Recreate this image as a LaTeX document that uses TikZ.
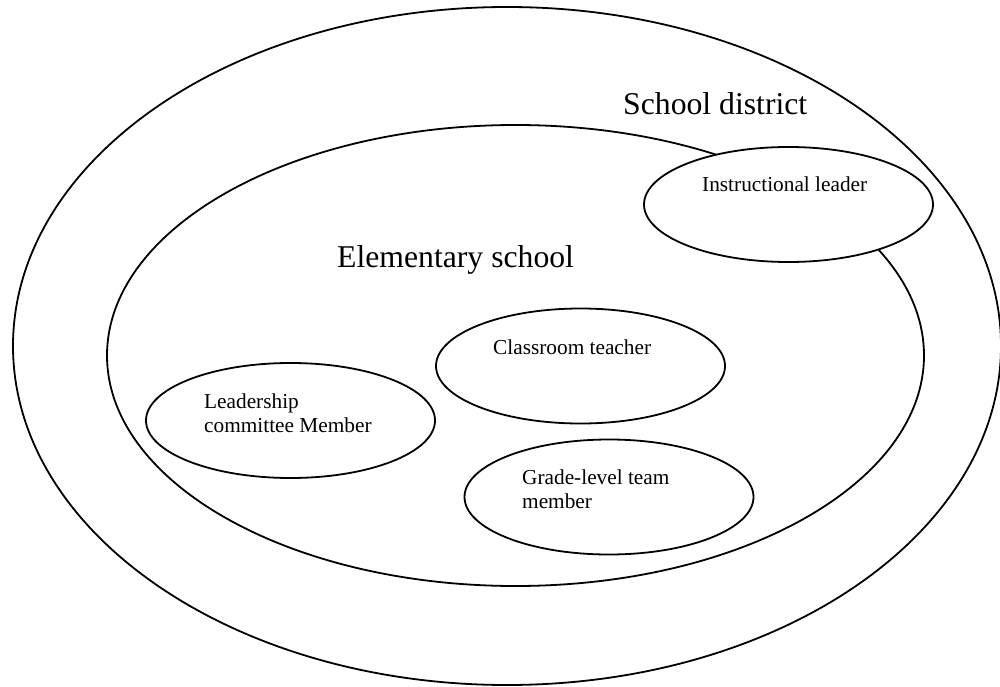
\documentclass[tikz,border=0pt]{standalone}
\usepackage{fontspec}
\setmainfont{Liberation Serif}
\usetikzlibrary{shapes.geometric}
\tikzset{
  ring/.style={draw=black, line width=1.8pt, ellipse, inner sep=0pt},
  role/.style={draw=black, line width=1.8pt, ellipse, inner sep=0pt, fill=white,
    minimum width=289pt, minimum height=115pt},
  bigtext/.style={anchor=base west, inner sep=0pt, font=\fontsize{31.7}{38}\selectfont},
  smalltext/.style={anchor=base west, inner sep=0pt, align=left,
    font=\fontsize{21.3}{24}\selectfont}
}
\begin{document}
\begin{tikzpicture}[x=1pt,y=-1pt]
\useasboundingbox[fill=white] (0,0) rectangle (1000,687);
% outer and inner rings
\node[ring, minimum width=988pt, minimum height=678pt] (district) at (507,346) {};
\node[ring, minimum width=817pt, minimum height=461pt] (school) at (515.5,355.5) {};
% role ellipses
\node[role] (instr) at (788.5,204.5) {};
\node[role] (teacher) at (580.5,366) {};
\node[role] (leadership) at (290.5,420.5) {};
\node[role] (grade) at (609,497) {};
% labels
\node[bigtext] (tdistrict) at (623,115) {School district};
\node[bigtext] (tschool) at (337,267) {Elementary school};
\node[smalltext] (tinstr) at (702,191) {Instructional leader};
\node[smalltext] (tteacher) at (493,354) {Classroom teacher};
\node[smalltext] (tlead1) at (204,408) {Leadership};
\node[smalltext] (tlead2) at (204,432) {committee Member};
\node[smalltext] (tgrade1) at (522,484) {Grade-level team};
\node[smalltext] (tgrade2) at (522,508) {member};
\end{tikzpicture}
\end{document}
